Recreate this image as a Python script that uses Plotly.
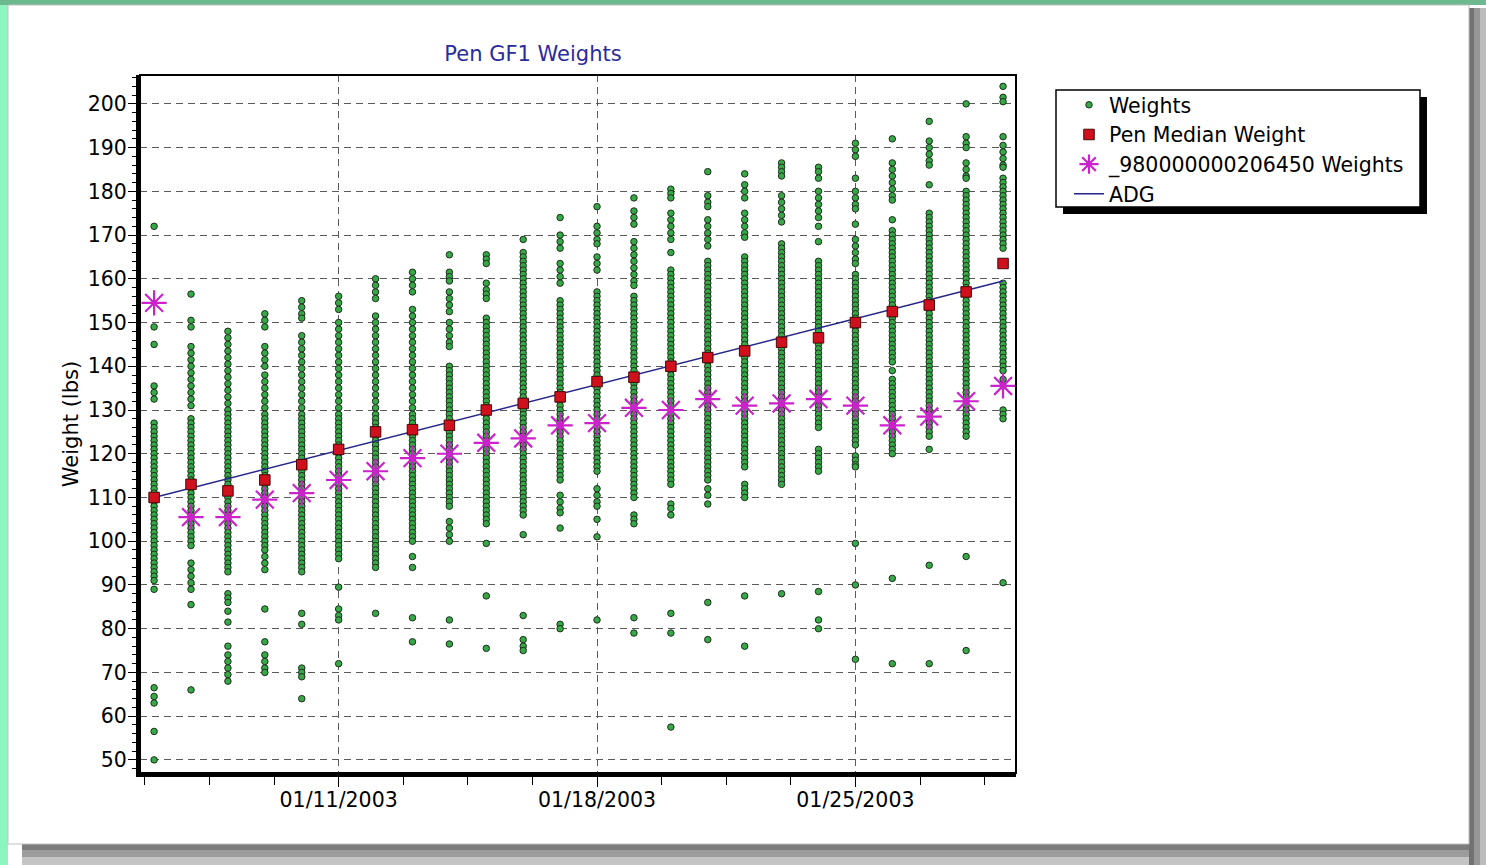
import plotly.graph_objects as go

# ---------------- data ----------------
dates = ["2003-01-06", "2003-01-07", "2003-01-08", "2003-01-09", "2003-01-10", "2003-01-11",
         "2003-01-12", "2003-01-13", "2003-01-14", "2003-01-15", "2003-01-16", "2003-01-17",
         "2003-01-18", "2003-01-19", "2003-01-20", "2003-01-21", "2003-01-22", "2003-01-23",
         "2003-01-24", "2003-01-25", "2003-01-26", "2003-01-27", "2003-01-28", "2003-01-29"]

w_0106 = [172, 149, 145, 135.5, 134, 132.5, 127, 126, 125, 124, 123, 122, 121, 120, 119, 118, 117, 116,
          115, 114, 113, 112, 111, 110, 109, 108, 107, 106, 105, 104, 103, 102, 101, 100, 99, 98, 97, 96,
          95, 94, 93, 92, 91, 89, 66.5, 64.5, 63, 56.5, 50]
w_0107 = [156.5, 150.5, 149, 144.5, 143, 141.5, 140, 138.5, 137, 135.5, 134, 132.5, 131, 128, 127, 126,
          125, 124, 123, 122, 121, 120, 119, 118, 117, 116, 115, 114, 113, 112, 111, 110, 109, 108, 107,
          106, 105, 104, 103, 102, 101, 100, 99, 95, 93.5, 92, 90.5, 89, 85.5, 66]
w_0108 = [148, 146.5, 145, 143.5, 142, 140.5, 139, 137.5, 136, 134.5, 133, 131.5, 130, 129, 128, 127, 126,
          125, 124, 123, 122, 121, 120, 119, 118, 117, 116, 115, 114, 113, 112, 111, 110, 109, 108, 107,
          106, 105, 104, 103, 102, 101, 100, 99, 98, 97, 96, 95, 94, 93, 88, 87, 86, 84, 81.5, 76, 74,
          72.5, 71, 69.5, 68]
w_0109 = [152, 150.5, 149, 144.5, 143, 141.5, 140, 138, 136.5, 135, 133.5, 132, 130.5, 129, 128, 127, 126,
          125, 124, 123, 122, 121, 120, 119, 118, 117, 116, 115, 114, 113, 112, 111, 110, 109, 108, 107,
          106, 105, 104, 103, 102, 101, 100, 99, 98, 96.5, 95, 93.5, 84.5, 77, 74, 72.5, 71, 70]
w_0110 = [155, 153.5, 152, 151, 147, 145.5, 144, 142.5, 141, 139.5, 138, 136.5, 135, 133.5, 132, 130.5,
          129, 128, 127, 126, 125, 124, 123, 122, 121, 120, 119, 118, 117, 116, 115, 114, 113, 112, 111,
          110, 109, 108, 107, 106, 105, 104, 103, 102, 101, 100, 99, 98, 97, 96, 95, 94, 93, 83.5, 81, 71,
          70, 69, 64]
w_0111 = [156, 154.5, 153, 150, 148.5, 147, 145.5, 144, 142.5, 141, 139.5, 138, 136.5, 135, 133.5, 132,
          130.5, 129, 128, 127, 126, 125, 124, 123, 122, 121, 120, 119, 118, 117, 116, 115, 114, 113, 112,
          111, 110, 109, 108, 107, 106, 105, 104, 103, 102, 101, 100, 99, 98, 97, 96, 89.5, 84.5, 83, 82,
          72]
w_0112 = [160, 158.5, 157, 155.5, 151.5, 150, 148.5, 147, 145.5, 144, 142.5, 141, 139.5, 138, 136.5, 135,
          133.5, 132, 130.5, 129, 128, 127, 126, 125, 124, 123, 122, 121, 120, 119, 118, 117, 116, 115,
          114, 113, 112, 111, 110, 109, 108, 107, 106, 105, 104, 103, 102, 101, 100, 99, 98, 97, 96, 95,
          94, 83.5]
w_0113 = [161.5, 160, 158.5, 157, 153, 151.5, 150, 148.5, 147, 145.5, 144, 142.5, 141, 139.5, 138, 136.5,
          135, 133.5, 132, 130.5, 129, 128, 127, 126, 125, 124, 123, 122, 121, 120, 119, 118, 117, 116,
          115, 114, 113, 112, 111, 110, 109, 108, 107, 106, 105, 104, 103, 102, 101, 100, 96.5, 94, 82.5,
          77]
w_0114 = [165.5, 161.5, 160.5, 159.5, 157, 155.5, 154, 152.5, 150, 148.5, 147, 145.5, 144.5, 140, 139,
          138, 137, 136, 135, 134, 133, 132, 131, 130, 129, 128, 127, 126, 125, 124, 123, 122, 121, 120,
          119, 118, 117, 116, 115, 114, 113, 112, 111, 110, 109, 108, 104.5, 103, 101.5, 100, 82, 76.5]
w_0115 = [165.5, 164.5, 163.5, 159, 157.5, 156.5, 155.5, 151, 150, 149, 148, 147, 146, 145, 144, 143,
          142, 141, 140, 139, 138, 137, 136, 135, 134, 133, 132, 131, 130, 129, 128, 127, 126, 125, 124,
          123, 122, 121, 120, 119, 118, 117, 116, 115, 114, 113, 112, 111, 110, 109, 108, 107, 106, 105,
          104, 99.5, 87.5, 75.5]
w_0116 = [169, 166, 165, 164, 163, 162, 161, 160, 159, 158, 157, 156, 155, 154, 153, 152, 151, 150, 149,
          148, 147, 146, 145, 144, 143, 142, 141, 140, 139, 138, 137, 136, 135, 134, 133, 132, 131, 130,
          129, 128, 127, 126, 125, 124, 123, 122, 121, 120, 119, 118, 117, 116, 115, 114, 113, 112, 111,
          110, 109, 108, 107, 106, 101.5, 83, 77.5, 76, 75]
w_0117 = [174, 170, 168.5, 167, 163.5, 162, 160.5, 159, 155, 154, 153, 152, 151, 150, 149, 148, 147, 146,
          145, 144, 143, 142, 141, 140, 139, 138, 137, 136, 135, 134, 133, 132, 131, 130, 129, 128, 127,
          126, 125, 124, 123, 122, 121, 120, 119, 118, 117, 116, 115, 114, 110.5, 109, 107.5, 106.5, 103,
          81, 80]
w_0118 = [176.5, 172, 170.5, 169, 168, 165, 163.5, 162, 157, 156, 155, 154, 153, 152, 151, 150, 149, 148,
          147, 146, 145, 144, 143, 142, 141, 140, 139, 138, 137, 136, 135, 134, 133, 132, 131, 130, 129,
          128, 127, 126, 125, 124, 123, 122, 121, 120, 119, 118, 117, 116, 112, 110.5, 109, 108, 105,
          101, 82]
w_0119 = [178.5, 175.5, 174, 172.5, 168.5, 167, 165.5, 164, 162.5, 161, 159.5, 158.5, 156, 155, 154, 153,
          152, 151, 150, 149, 148, 147, 146, 145, 144, 143, 142, 141, 140, 139, 138, 137, 136, 135, 134,
          133, 132, 131, 130, 129, 128, 127, 126, 125, 124, 123, 122, 121, 120, 119, 118, 117, 116, 115,
          114, 113, 112, 111, 110, 106, 105, 104, 82.5, 79]
w_0120 = [180.5, 179.5, 178.5, 175, 173.5, 172, 170.5, 169, 166, 162, 161, 160, 159, 158, 157, 156, 155,
          154, 153, 152, 151, 150, 149, 148, 147, 146, 145, 144, 143, 142, 141, 140, 139, 138, 137, 136,
          135, 134, 133, 132, 131, 130, 129, 128, 127, 126, 125, 124, 123, 122, 121, 120, 119, 118, 117,
          116, 115, 114, 113, 108.5, 107.5, 106, 83.5, 79, 57.5]
w_0121 = [184.5, 179, 177.5, 176.5, 173.5, 172, 170.5, 169, 167.5, 164, 163, 162, 161, 160, 159, 158,
          157, 156, 155, 154, 153, 152, 151, 150, 149, 148, 147, 146, 145, 144, 143, 142, 141, 140, 139,
          138, 137, 136, 135, 134, 133, 132, 131, 130, 129, 128, 127, 126, 125, 124, 123, 122, 121, 120,
          119, 118, 117, 116, 115, 114, 112, 110.5, 108.5, 86, 77.5]
w_0122 = [184, 181.5, 180, 178.5, 175, 173.5, 172, 170.5, 169.5, 165, 164, 163, 162, 161, 160, 159, 158,
          157, 156, 155, 154, 153, 152, 151, 150, 149, 148, 147, 146, 145, 144, 143, 142, 141, 140, 139,
          138, 137, 136, 135, 134, 133, 132, 131, 130, 129, 128, 127, 126, 125, 124, 123, 122, 121, 120,
          119, 118, 117, 113, 112, 111, 110, 87.5, 76]
w_0123 = [186.5, 185.5, 184.5, 183.5, 179, 177.5, 176, 174.5, 173, 168, 167, 166, 165, 164, 163, 162,
          161, 160, 159, 158, 157, 156, 155, 154, 153, 152, 151, 150, 149, 148, 147, 146, 145, 144, 143,
          142, 141, 140, 139, 138, 137, 136, 135, 134, 133, 132, 131, 130, 129, 128, 127, 126, 125, 124,
          123, 122, 121, 120, 119, 118, 117, 116, 115, 114, 113, 88]
w_0124 = [185.5, 184.5, 183, 180, 178.5, 177, 175.5, 174, 172, 168.5, 164, 163, 162, 161, 160, 159, 158,
          157, 156, 155, 154, 153, 152, 151, 150, 149, 148, 147, 146, 145, 144, 143, 142, 141, 140, 139,
          138, 137, 136, 135, 134, 133, 132, 131, 130, 129, 128, 127, 126, 121, 120, 119, 118, 117, 116,
          88.5, 82, 80]
w_0125 = [191, 189.5, 188, 183, 180, 178.5, 177, 176, 172.5, 169, 167.5, 166, 164.5, 163.5, 161, 160,
          159, 158, 157, 156, 155, 154, 153, 152, 151, 150, 149, 148, 147, 146, 145, 144, 143, 142, 141,
          140, 139, 138, 137, 136, 135, 134, 133, 132, 131, 130, 129, 128, 127, 126, 125, 124, 123, 122,
          119.5, 118.5, 117.5, 117, 99.5, 90, 73]
w_0126 = [192, 186.5, 185, 183.5, 182, 180.5, 179, 178, 173.5, 171, 170, 169, 168, 167, 166, 165, 164,
          163, 162, 161, 160, 159, 158, 157, 156, 155, 154, 153, 152, 151, 150, 149, 148, 147, 146, 145,
          144, 143, 142, 141, 139, 137, 136, 135, 134, 133, 132, 131, 130, 129, 128, 127, 126, 125, 124,
          123, 122, 121, 120, 91.5, 72]
w_0127 = [196, 191.5, 190, 188.5, 187, 186, 181.5, 175, 174, 173, 172, 171, 170, 169, 168, 167, 166, 165,
          164, 163, 162, 161, 160, 159, 158, 157, 156, 155, 154, 153, 152, 151, 150, 149, 148, 147, 146,
          145, 144, 143, 142, 141, 140, 139, 138, 137, 136, 135, 134, 133, 132, 131, 130, 129, 128, 127,
          126, 125, 124, 121, 94.5, 72]
w_0128 = [200, 192.5, 191, 190, 186.5, 185, 183.5, 183, 180, 179, 178, 177, 176, 175, 174, 173, 172, 171,
          170, 169, 168, 167, 166, 165, 164, 163, 162, 161, 160, 159, 158, 157, 156, 155, 154, 153, 152,
          151, 150, 149, 148, 147, 146, 145, 144, 143, 142, 141, 140, 139, 138, 137, 136, 135, 134, 133,
          132, 131, 130, 129, 128, 127, 126, 125, 124, 96.5, 75]
w_0129 = [204, 201.5, 200.5, 192.5, 190.5, 189, 187.5, 186, 185.5, 183, 182, 181, 180, 179, 178, 177,
          176, 175, 174, 173, 172, 171, 170, 169, 168, 167, 159, 158, 157, 156, 155, 154, 153, 152, 151,
          150, 149, 148, 147, 146, 145, 144, 143, 142, 141, 140, 139, 137, 135.5, 130, 129, 128, 90.5]

weights_by_day = [w_0106, w_0107, w_0108, w_0109, w_0110, w_0111, w_0112, w_0113, w_0114, w_0115,
                  w_0116, w_0117, w_0118, w_0119, w_0120, w_0121, w_0122, w_0123, w_0124, w_0125,
                  w_0126, w_0127, w_0128, w_0129]

median_weight = [110, 113, 111.5, 114, 117.5, 121, 125, 125.5, 126.5, 130, 131.5, 133, 136.5, 137.5,
                 140, 142, 143.5, 145.5, 146.5, 150, 152.5, 154, 157, 163.5]
animal_weight = [154.5, 105.5, 105.5, 109.5, 111, 114, 116, 119, 120, 122.5, 123.5, 126.5, 127, 130.5,
                 130, 132.5, 131, 131.5, 132.5, 131, 126.5, 128.5, 132, 135.5]
adg_dates = ["2003-01-06", "2003-01-29"]
adg_values = [110, 159.5]

# ---------------- figure ----------------
W, H = 1486, 865
L, R, T, B = 140, 1016, 75, 773  # plot area in pixels


def xp(px):
    return (px - L) / (R - L)


def yp(py):
    return (B - py) / (B - T)


def rect(x0, y0, x1, y1, fill=None, line=None, lw=0, layer="below"):
    d = dict(type="rect", xref="paper", yref="paper",
             x0=xp(x0), x1=xp(x1), y0=yp(y1), y1=yp(y0), layer=layer,
             line=dict(width=lw, color=line if line else "rgba(0,0,0,0)"))
    d["fillcolor"] = fill if fill else "rgba(0,0,0,0)"
    return d


wx, wy = [], []
for d, vals in zip(dates, weights_by_day):
    for v in vals:
        wx.append(d)
        wy.append(v)

FONT = "DejaVu Sans"

fig = go.Figure()
fig.add_trace(go.Scatter(
    x=wx, y=wy, mode="markers", name="Weights", legendrank=1,
    marker=dict(symbol="circle", size=6.5, color="#36a846", line=dict(color="#1e2e1e", width=1))))
fig.add_trace(go.Scatter(
    x=adg_dates, y=adg_values, mode="lines", name="ADG", legendrank=4,
    line=dict(color="#26268a", width=1.5)))
fig.add_trace(go.Scatter(
    x=dates, y=median_weight, mode="markers", name="Pen Median Weight", legendrank=2,
    marker=dict(symbol="square", size=10.5, color="#d0101c", line=dict(color="#4a0808", width=1))))
fig.add_trace(go.Scatter(
    x=dates, y=animal_weight, mode="markers", name="_980000000206450 Weights", legendrank=3,
    marker=dict(symbol="asterisk-open", size=21, color="#cc22cc", line=dict(color="#cc22cc", width=2.2))))

shapes = []
# frame backgrounds
shapes.append(rect(0, 0, W, 5, fill="#6cb88f"))
shapes.append(rect(0, 5, 8, H, fill="#8ff5c0"))
# right shadow
shapes.append(rect(1469, 8, W + 2, H + 2, fill="#bcbcbc"))
shapes.append(rect(1469, 8, 1480, H + 2, fill="#969696"))
shapes.append(rect(1469, 8, 1474, H + 2, fill="#727272"))
# bottom shadow
shapes.append(rect(22, 844, 1469, H + 2, fill="#c4c4c4"))
shapes.append(rect(22, 844, 1469, 857, fill="#9c9c9c"))
shapes.append(rect(22, 844, 1469, 850, fill="#7c7c7c"))
shapes.append(rect(8, 5, 1469, 844, line="#c0c0c0", lw=1))
# legend box with shadow
shapes.append(rect(1063, 97, 1427, 214, fill="#000000"))
shapes.append(rect(1056, 90, 1420, 207, fill="#ffffff", line="#000000", lw=1.5))
# thin plot border (top/right)
shapes.append(dict(type="rect", xref="paper", yref="paper", x0=0, x1=1, y0=0, y1=1,
                   line=dict(color="#000000", width=2), layer="above"))

grid_style = dict(showgrid=True, gridcolor="#5a5a5a", gridwidth=1, griddash="7px,5px")

fig.update_layout(
    width=W, height=H,
    margin=dict(l=L, r=W - R, t=T, b=H - B, pad=0),
    paper_bgcolor="#ffffff",
    plot_bgcolor="rgba(0,0,0,0)",
    font=dict(family=FONT, size=20.5, color="#000000"),
    title=dict(text="Pen GF1 Weights", x=xp(533), xref="paper", xanchor="center",
               y=1 - 54 / H, yref="container", yanchor="middle",
               font=dict(family=FONT, size=21, color="#2b2b9b")),
    shapes=shapes,
    showlegend=True,
    legend=dict(x=xp(1069), y=yp(85), xanchor="left", yanchor="top",
                bgcolor="rgba(0,0,0,0)", borderwidth=0,
                font=dict(family=FONT, size=20.5, color="#000000"),
                traceorder="normal", itemwidth=30),
    xaxis=dict(
        type="date",
        range=["2003-01-05 14:50", "2003-01-29 08:25"],
        tick0="2003-01-11", dtick=7 * 86400000, tickformat="%m/%d/%Y",
        ticks="outside", ticklen=10, tickwidth=1, tickcolor="#000000",
        ticklabelstandoff=-5,
        showline=True, linewidth=4, linecolor="#000000",
        minor=dict(tick0="2003-01-11", dtick=int(1.75 * 86400000), ticks="outside",
                   ticklen=8, tickwidth=1, tickcolor="#000000", showgrid=False),
        zeroline=False, **grid_style),
    yaxis=dict(
        range=[47, 206.6], tick0=50, dtick=10,
        ticks="outside", ticklen=8, tickwidth=1, tickcolor="#000000",
        ticklabelstandoff=-3,
        showline=True, linewidth=4, linecolor="#000000",
        minor=dict(dtick=2, ticks="outside", ticklen=4, tickwidth=1, tickcolor="#000000",
                   showgrid=False),
        title=dict(text="Weight (lbs)", standoff=4, font=dict(family=FONT, size=21)),
        zeroline=False, **grid_style),
)

fig.write_html(
    "out.html", config={"displayModeBar": False},
    post_script=("document.body.style.margin='0';"
                 "document.body.style.overflow='hidden';"
                 "document.documentElement.style.overflow='hidden';"))
